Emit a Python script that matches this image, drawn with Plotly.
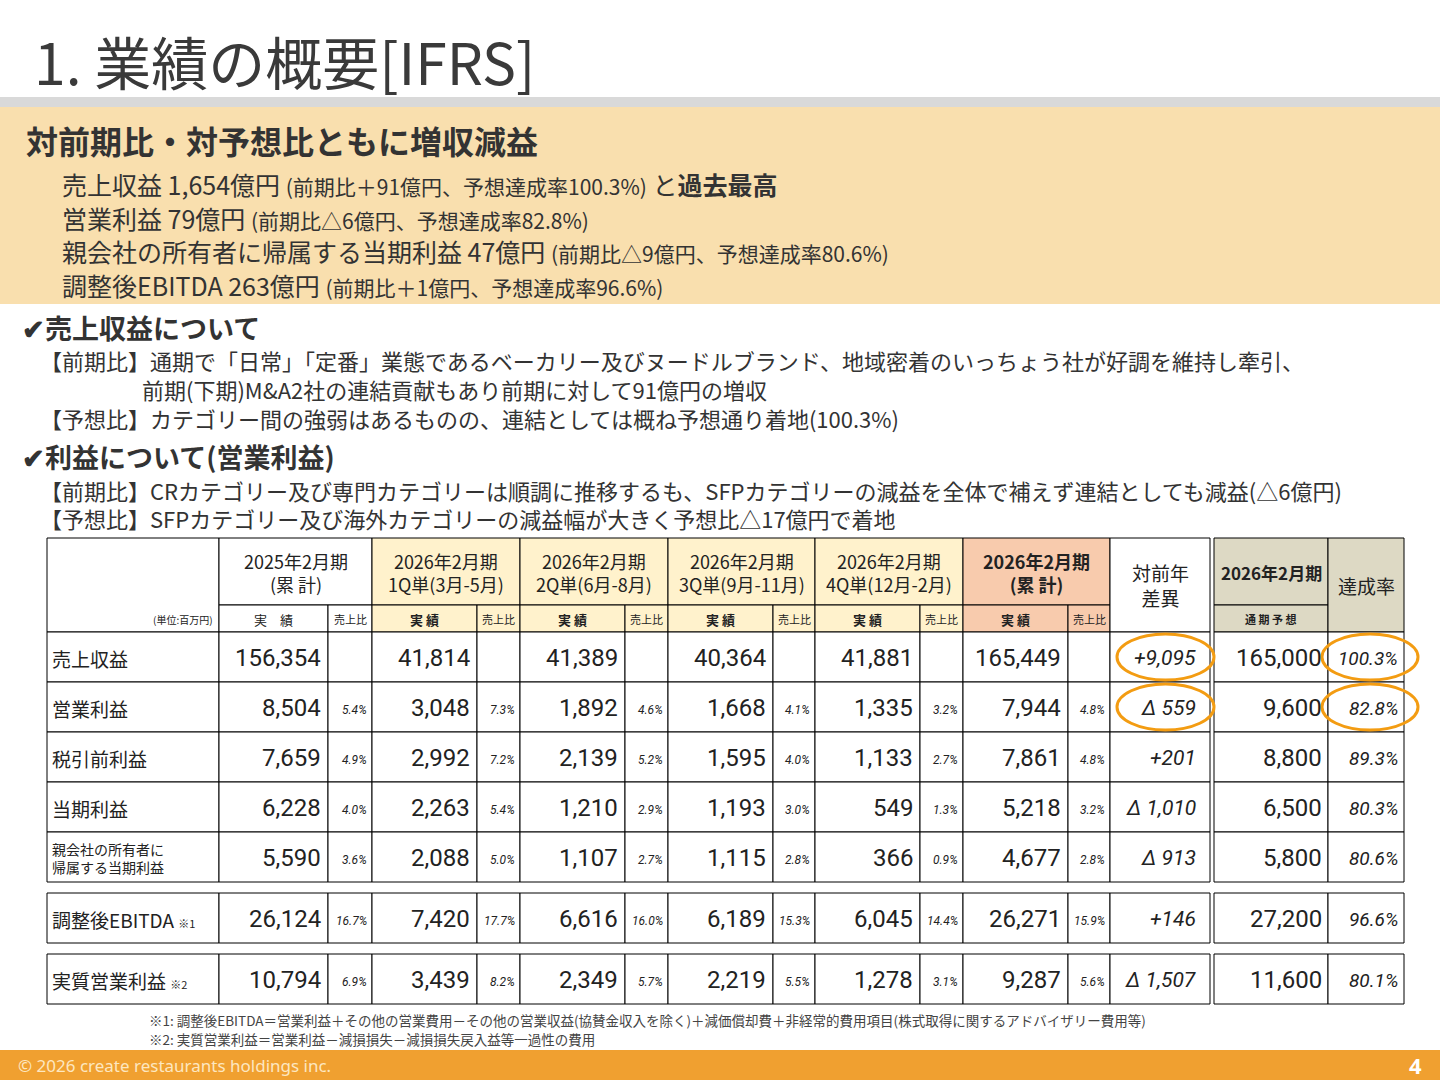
import plotly.graph_objects as go

# ---------------- data ----------------
row_labels = ["売上収益", "営業利益", "税引前利益", "当期利益", "親会社の所有者に<br>帰属する当期利益", "調整後EBITDA <span style='font-size:11px'>※1</span>", "実質営業利益 <span style='font-size:11px'>※2</span>"]
period_titles = ["2025年2月期<br>(累 計)", "2026年2月期<br>1Q単(3月-5月)", "2026年2月期<br>2Q単(6月-8月)", "2026年2月期<br>3Q単(9月-11月)", "2026年2月期<br>4Q単(12月-2月)", "<b>2026年2月期<br>(累 計)</b>"]
fy2025 = ["156,354", "8,504", "7,659", "6,228", "5,590", "26,124", "10,794"]
fy2025_r = ["", "5.4%", "4.9%", "4.0%", "3.6%", "16.7%", "6.9%"]
q1 = ["41,814", "3,048", "2,992", "2,263", "2,088", "7,420", "3,439"]
q1_r = ["", "7.3%", "7.2%", "5.4%", "5.0%", "17.7%", "8.2%"]
q2 = ["41,389", "1,892", "2,139", "1,210", "1,107", "6,616", "2,349"]
q2_r = ["", "4.6%", "5.2%", "2.9%", "2.7%", "16.0%", "5.7%"]
q3 = ["40,364", "1,668", "1,595", "1,193", "1,115", "6,189", "2,219"]
q3_r = ["", "4.1%", "4.0%", "3.0%", "2.8%", "15.3%", "5.5%"]
q4 = ["41,881", "1,335", "1,133", "549", "366", "6,045", "1,278"]
q4_r = ["", "3.2%", "2.7%", "1.3%", "0.9%", "14.4%", "3.1%"]
fy2026 = ["165,449", "7,944", "7,861", "5,218", "4,677", "26,271", "9,287"]
fy2026_r = ["", "4.8%", "4.8%", "3.2%", "2.8%", "15.9%", "5.6%"]
yoy_diff = ["+9,095", "Δ 559", "+201", "Δ 1,010", "Δ 913", "+146", "Δ 1,507"]
forecast = ["165,000", "9,600", "8,800", "6,500", "5,800", "27,200", "11,600"]
achieve = ["100.3%", "82.8%", "89.3%", "80.3%", "80.6%", "96.6%", "80.1%"]

# ---------------- layout geometry ----------------
W, H = 1440, 1080
JP = "Noto Sans CJK JP"
NUM = "Roboto, Noto Sans CJK JP"
shapes, ann = [], []

def rect(x0, y0, x1, y1, fill="rgba(0,0,0,0)", line=None, lw=1):
    shapes.append(dict(type="rect", x0=x0, y0=y0, x1=x1, y1=y1, xref="x", yref="y",
                       fillcolor=fill, line=dict(color=line or "rgba(0,0,0,0)", width=lw if line else 0), layer="below"))

def txt(x, y, s, size=14, color="#222", anchor="center", font=JP, valign="middle"):
    ann.append(dict(x=x, y=y, xref="x", yref="y", text=s, showarrow=False, xanchor=anchor,
                    yanchor=valign, font=dict(size=size, color=color, family=font), align="left" if anchor == "left" else "center"))

# title
txt(32, 60, "1. 業績の概要[IFRS]", 57, "#3a3a3a", "left")
rect(0, 97, W, 107, "#d9d9d9")
rect(0, 107, W, 304, "#f9dfae")
txt(24, 140, "<b>対前期比・対予想比ともに増収減益</b>", 32, "#333", "left")
sub = [
    "売上収益 1,654億円 <span style='font-size:21px'>(前期比＋91億円、予想達成率100.3%)</span> と<b>過去最高</b>",
    "営業利益 79億円 <span style='font-size:21px'>(前期比△6億円、予想達成率82.8%)</span>",
    "親会社の所有者に帰属する当期利益 47億円 <span style='font-size:21px'>(前期比△9億円、予想達成率80.6%)</span>",
    "調整後EBITDA 263億円 <span style='font-size:21px'>(前期比＋1億円、予想達成率96.6%)</span>",
]
for i, s in enumerate(sub):
    txt(60, 184 + i * 33.5, s, 25, "#333", "left")

txt(20, 327, "<b>✔売上収益について</b>", 27, "#333", "left")
txt(38, 360, "【前期比】通期で「日常」「定番」業態であるベーカリー及びヌードルブランド、地域密着のいっちょう社が好調を維持し牽引、", 22, "#333", "left")
txt(140, 389, "前期(下期)M&A2社の連結貢献もあり前期に対して91億円の増収", 22, "#333", "left")
txt(38, 418, "【予想比】カテゴリー間の強弱はあるものの、連結としては概ね予想通り着地(100.3%)", 22, "#333", "left")
txt(20, 456, "<b>✔利益について(営業利益)</b>", 27, "#333", "left")
txt(38, 490, "【前期比】CRカテゴリー及び専門カテゴリーは順調に推移するも、SFPカテゴリーの減益を全体で補えず連結としても減益(△6億円)", 22, "#333", "left")
txt(38, 518, "【予想比】SFPカテゴリー及び海外カテゴリーの減益幅が大きく予想比△17億円で着地", 22, "#333", "left")

# table
hdr_top, hdr_mid, hdr_bot = 538, 605, 632
row_tops = [632, 682, 732, 782, 832, 893, 954]
RH = 50
lab_x0, lab_x1 = 47, 219
pairs = [(219, 328, 372), (372, 477, 520), (520, 625, 668), (668, 773, 815), (815, 920, 963), (963, 1068, 1110)]
fills = ["#ffffff", "#fff2cc", "#fff2cc", "#fff2cc", "#fff2cc", "#f8cbad"]
diff_x = (1110, 1210)
fc_x = (1214, 1328)
ac_x = (1328, 1404)
LC = "#000"

vals = [fy2025, q1, q2, q3, q4, fy2026]
rats = [fy2025_r, q1_r, q2_r, q3_r, q4_r, fy2026_r]

rect(lab_x0, hdr_top, lab_x1, hdr_bot, "#fff", LC)
txt(lab_x1 - 4, 619, "(単位:百万円)", 10, "#222", "right")
for k, (a, b, c) in enumerate(pairs):
    rect(a, hdr_top, c, hdr_mid, fills[k], LC)
    rect(a, hdr_mid, b, hdr_bot, fills[k], LC)
    rect(b, hdr_mid, c, hdr_bot, fills[k], LC)
    txt((a + c) / 2, 572, period_titles[k], 18, "#222")
    txt((a + b) / 2, 619, "<b>実 績</b>" if k else "実　績", 13)
    txt((b + c) / 2, 619, "売上比", 11)
rect(diff_x[0], hdr_top, diff_x[1], hdr_bot, "#fff", LC)
txt(sum(diff_x) / 2, 585, "対前年<br>差異", 19, "#222")
rect(fc_x[0], hdr_top, fc_x[1], hdr_mid, "#ddd9c4", LC)
rect(fc_x[0], hdr_mid, fc_x[1], hdr_bot, "#ddd9c4", LC)
txt(sum(fc_x) / 2, 572, "<b>2026年2月期</b>", 17, "#222")
txt(sum(fc_x) / 2, 619, "<b>通 期 予 想</b>", 11)
rect(ac_x[0], hdr_top, ac_x[1], hdr_bot, "#ddd9c4", LC)
txt(sum(ac_x) / 2, 585, "達成率", 19)

for r, y0 in enumerate(row_tops):
    y1 = y0 + RH
    ym = y0 + RH / 2 + 1
    rect(lab_x0, y0, lab_x1, y1, "#fff", LC)
    txt(lab_x0 + 3, ym, row_labels[r], 14 if r == 4 else 19, "#222", "left")
    for k, (a, b, c) in enumerate(pairs):
        rect(a, y0, b, y1, "#fff", LC)
        rect(b, y0, c, y1, "#fff", LC)
        txt(b - 5, ym, vals[k][r], 24, "#222", "right", NUM)
        txt(c - 3, ym + 2, "<i>" + rats[k][r] + "</i>", 12, "#222", "right", NUM)
    rect(diff_x[0], y0, diff_x[1], y1, "#fff", LC)
    txt(diff_x[1] - 12, ym, "<i>" + yoy_diff[r] + "</i>", 21, "#222", "right", NUM)
    rect(fc_x[0], y0, fc_x[1], y1, "#fff", LC)
    txt(fc_x[1] - 4, ym, forecast[r], 24, "#222", "right", NUM)
    rect(ac_x[0], y0, ac_x[1], y1, "#fff", LC)
    txt(ac_x[1] - 4, ym, "<i>" + achieve[r] + "</i>", 19, "#222", "right", NUM)

for y0 in row_tops[:2]:
    for (x0, x1) in [(1117, 1214), (1322, 1418)]:
        shapes.append(dict(type="circle", x0=x0, x1=x1, y0=y0 + 2, y1=y0 + 48, xref="x", yref="y",
                           line=dict(color="#f39c12", width=3), layer="above"))

txt(147, 1020, "※1: 調整後EBITDA＝営業利益＋その他の営業費用－その他の営業収益(協賛金収入を除く)＋減価償却費＋非経常的費用項目(株式取得に関するアドバイザリー費用等)", 13.5, "#444", "left")
txt(147, 1039, "※2: 実質営業利益＝営業利益－減損損失－減損損失戻入益等一過性の費用", 13.5, "#444", "left")
rect(0, 1050, W, H, "#f0a030")
txt(16, 1065, "© 2026 create restaurants holdings inc.", 17, "#fde7c0", "left", "Noto Sans")
txt(1424, 1065, "<b>4</b>", 22, "#fff", "right", "Noto Sans")

fig = go.Figure()
fig.update_layout(width=W, height=H, margin=dict(l=0, r=0, t=0, b=0), paper_bgcolor="#fff", plot_bgcolor="#fff",
                  xaxis=dict(range=[0, W], visible=False, fixedrange=True),
                  yaxis=dict(range=[H, 0], visible=False, fixedrange=True),
                  shapes=shapes, annotations=ann, showlegend=False)
fig.write_html("out.html", config={"displayModeBar": False},
               post_script="document.body.style.margin='0';document.body.style.overflow='hidden';")
